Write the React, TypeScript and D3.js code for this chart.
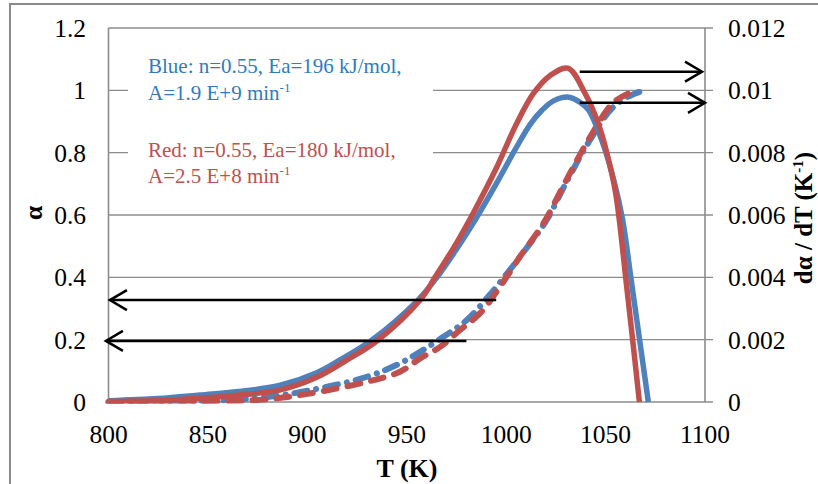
import React from "react";
import * as d3 from "d3";

// ---- data ----
const tBlueRate = [800, 825, 846, 870, 886, 905, 916.4, 932.5, 955.6, 965.2, 975, 985, 995, 1005, 1012, 1018, 1024, 1031.6, 1037, 1041.4, 1048.6, 1054, 1058.6, 1062.7, 1067.1, 1071.5];
const blueRate = [0.00004, 0.00011, 0.000225, 0.00037, 0.00053, 0.00095, 0.00135, 0.00199, 0.00327, 0.004, 0.0049, 0.0059, 0.007, 0.00815, 0.0089, 0.00936, 0.00967, 0.00978, 0.00962, 0.00937, 0.0083, 0.00715, 0.00584, 0.004, 0.002, 0];

const tRedRate = [800, 825, 846, 870, 886, 905, 920, 935.6, 956.7, 964.2, 975, 985, 995, 1005, 1013.7, 1022, 1031, 1039.7, 1046.9, 1050.6, 1054.8, 1056.9, 1060.1, 1063.6, 1067];
const redRate = [0.00002, 0.00005, 0.00012, 0.00025, 0.00038, 0.0008, 0.00135, 0.00199, 0.00327, 0.004, 0.0051, 0.00625, 0.0075, 0.0089, 0.0099, 0.01047, 0.01071, 0.0099, 0.00883, 0.008, 0.0068, 0.00584, 0.004, 0.002, 0];

const tBlueAlpha = [800, 840, 860, 880, 900, 930, 946.6, 956.7, 968.4, 980.2, 991.9, 1002, 1010.4, 1020.4, 1030.1, 1042.2, 1053.8, 1064.8, 1071];
const blueAlpha = [0, 0.002, 0.006, 0.016, 0.036, 0.081, 0.124, 0.161, 0.209, 0.263, 0.345, 0.425, 0.495, 0.584, 0.703, 0.841, 0.946, 0.99, 1.0];

const tRedAlpha = [800, 840, 860, 880, 900, 930, 946.6, 956.7, 966.8, 976.8, 986.9, 996.9, 1006.9, 1018.7, 1030.1, 1042.2, 1053.8, 1061.5];
const redAlpha = [0, 0.001, 0.003, 0.009, 0.026, 0.065, 0.097, 0.14, 0.177, 0.231, 0.285, 0.37, 0.466, 0.573, 0.71, 0.85, 0.96, 0.99];

const xTicks = [800, 850, 900, 950, 1000, 1050, 1100];
const yLeftTicks = [0, 0.2, 0.4, 0.6, 0.8, 1, 1.2];
const yRightTicks = [0, 0.002, 0.004, 0.006, 0.008, 0.01, 0.012];

// arrow annotations: T start, T tip, value
const rateArrowT0 = [1037, 1037];
const rateArrowT1 = [1098.5, 1100];
const rateArrowV = [0.0106, 0.0096];
const alphaArrowT0 = [995, 980];
const alphaArrowT1 = [800.7, 798.7];
const alphaArrowV = [0.327, 0.196];

const BLUE = "#4F81BD";
const RED = "#C0504D";
const GRID = "#8c8c8c";
const FONT = "'Times New Roman', 'Liberation Serif', serif";

export default function App() {
  const left = 108.5, right = 705, top = 28, bottom = 402;
  const x = d3.scaleLinear().domain([800, 1100]).range([left, right]);
  const yL = d3.scaleLinear().domain([0, 1.2]).range([bottom, top]);
  const yR = d3.scaleLinear().domain([0, 0.012]).range([bottom, top]);

  const mk = (ts: number[], vs: number[], ys: d3.ScaleLinear<number, number>) =>
    d3.line<number>().x((_, i) => x(ts[i])).y((v) => ys(v)).curve(d3.curveCatmullRom.alpha(0.5))(vs) || "";

  const arrow = (x0: number, x1: number, y: number, key: string) => {
    const dir = x1 > x0 ? 1 : -1;
    return (
      <g key={key} stroke="#000" strokeWidth={2.5} fill="none">
        <line x1={x0} x2={x1} y1={y} y2={y} />
        <polyline points={`${x1 - dir * 17},${y - 10} ${x1},${y} ${x1 - dir * 17},${y + 10}`} />
      </g>
    );
  };

  return (
    <svg width={818} height={484} style={{ position: "absolute", left: 0, top: 0, background: "#fff" }} fontFamily={FONT}>
      <defs>
        <clipPath id="plotclip">
          <rect x={left - 4} y={top - 10} width={right - left + 20} height={bottom - top + 10 + 1.5} />
        </clipPath>
      </defs>
      <rect x={0} y={0} width={818} height={484} fill="#fff" />
      <rect x={10} y={4} width={900} height={600} fill="none" stroke="#8a8a8a" strokeWidth={2} />

      {/* gridlines */}
      {yLeftTicks.map((t) => (
        <line key={"g" + t} x1={left} x2={right + 8} y1={yL(t)} y2={yL(t)} stroke={GRID} strokeWidth={1.4} />
      ))}
      <line x1={left} x2={left} y1={top} y2={bottom} stroke={GRID} strokeWidth={1.6} />
      <line x1={right} x2={right} y1={top} y2={bottom} stroke={GRID} strokeWidth={1.6} />

      {/* legend box */}
      <rect x={128} y={40} width={305} height={160} fill="#fff" />
      <text x={148} y={73} fontSize={21} fill="#2E7BC4">Blue: n=0.55, Ea=196 kJ/mol,</text>
      <text x={148} y={100} fontSize={21} fill="#2E7BC4">A=1.9 E+9 min<tspan dy={-8} fontSize={13}>-1</tspan></text>
      <text x={148} y={157} fontSize={21} fill={RED}>Red: n=0.55, Ea=180 kJ/mol,</text>
      <text x={148} y={183} fontSize={21} fill={RED}>A=2.5 E+8 min<tspan dy={-8} fontSize={13}>-1</tspan></text>

      {/* curves */}
      <g clipPath="url(#plotclip)">
        <path d={mk(tBlueAlpha, blueAlpha, yL)} fill="none" stroke={BLUE} strokeWidth={6} strokeDasharray="13 9 0.1 9" strokeLinecap="round" />
        <path d={mk(tRedAlpha, redAlpha, yL)} fill="none" stroke={RED} strokeWidth={6} strokeDasharray="13 11" strokeLinecap="round" />
        <path d={mk(tBlueRate, blueRate, yR)} fill="none" stroke={BLUE} strokeWidth={5.5} />
        <path d={mk(tRedRate, redRate, yR)} fill="none" stroke={RED} strokeWidth={5.5} />
      </g>

      {/* arrows */}
      {rateArrowV.map((v, i) => arrow(x(rateArrowT0[i]), x(rateArrowT1[i]), yR(v), "ra" + i))}
      {alphaArrowV.map((v, i) => arrow(x(alphaArrowT0[i]), x(alphaArrowT1[i]), yL(v), "aa" + i))}

      {/* tick labels */}
      {yLeftTicks.map((t) => (
        <text key={"yl" + t} x={86} y={yL(t)} dy="0.35em" textAnchor="end" fontSize={25.5}>{d3.format("~g")(t)}</text>
      ))}
      {yRightTicks.map((t) => (
        <text key={"yr" + t} x={728} y={yR(t)} dy="0.35em" textAnchor="start" fontSize={25.5}>{t === 0 ? "0" : String(t)}</text>
      ))}
      {xTicks.map((t) => (
        <text key={"x" + t} x={x(t)} y={443} textAnchor="middle" fontSize={25.5}>{t}</text>
      ))}

      {/* axis titles */}
      <text x={407} y={477} textAnchor="middle" fontSize={26} fontWeight="bold">T (K)</text>
      <text transform="translate(42,213) rotate(-90)" textAnchor="middle" fontSize={26} fontWeight="bold">α</text>
      <text transform="translate(812,218) rotate(-90)" textAnchor="middle" fontSize={25} fontWeight="bold">
        dα / dT (K<tspan dy={-9} fontSize={15}>-1</tspan><tspan dy={9}>)</tspan>
      </text>
    </svg>
  );
}
